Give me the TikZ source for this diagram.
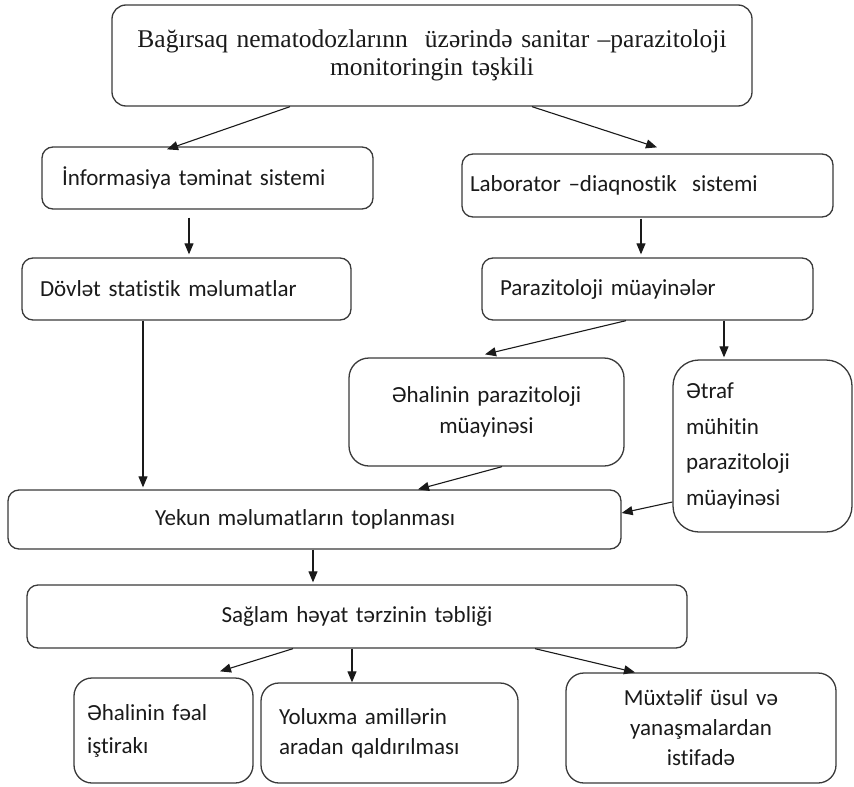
\documentclass[tikz,border=0pt]{standalone}
\usepackage{fontspec}
\usepackage{tikz}
\usetikzlibrary{arrows.meta,positioning}
\setmainfont{Carlito}[Ligatures=NoCommon]
\newfontfamily\titlefont{Liberation Serif}
\definecolor{edge}{HTML}{3A3A3A}
\definecolor{ink}{HTML}{1A1A1A}
\tikzset{
  every node/.style={font=\fontsize{23}{31}\selectfont,color=ink},
  box/.style={draw=edge,line width=1.3pt,rounded corners=11pt,fill=white,
              inner ysep=0pt,align=left},
  cbox/.style={box,align=center},
  head/.style={cbox,font=\titlefont\fontsize{25.5}{28}\selectfont,rounded corners=14pt},
  ar/.style={-{Triangle[length=11pt,width=9pt]},draw=ink,line width=1.1pt},
}

\begin{document}
\begin{tikzpicture}[x=1pt,y=-1pt]
\useasboundingbox (0,0) rectangle (854,787);

% ---- top ----
\node[head,minimum width=640pt,minimum height=101pt,text width=630pt,inner xsep=5pt] (org) at (432,55.5)
  {Bağırsaq nematodozlarınn\ \ üzərində sanitar –parazitoloji\\ monitoringin təşkili};

% ---- two systems ----
\node[box,minimum width=331pt,minimum height=62pt,text width=291pt,inner xsep=20pt] (info) at (207.5,178)
  {İnformasiya təminat sistemi};
\node[box,minimum width=371pt,minimum height=63pt,text width=355pt,inner xsep=8pt] (lab) at (647.5,185.5)
  {Laborator –diaqnostik\ \ sistemi};

\node[box,minimum width=329pt,minimum height=62pt,text width=293pt,inner xsep=18pt] (dov) at (186.5,289)
  {Dövlət statistik məlumatlar};
\node[box,minimum width=331pt,minimum height=62pt,text width=295pt,inner xsep=18pt] (par) at (647.5,289)
  {Parazitoloji müayinələr};

\draw[ar] ([xshift=-142pt]org.south) -- ([xshift=-40.5pt,yshift=-3pt]info.north);
\draw[ar] ([xshift=100pt]org.south) -- ([xshift=9.5pt,yshift=6pt]lab.north);
\draw[ar] ([xshift=-18.5pt,yshift=-8pt]info.south) -- ([xshift=2.5pt,yshift=3pt]dov.north);
\draw[ar] ([xshift=-6.5pt,yshift=-1pt]lab.south) -- ([xshift=-6.5pt,yshift=3pt]par.north);

% ---- examinations ----
\node[cbox,minimum width=275pt,minimum height=108pt,text width=255pt,inner xsep=10pt,rounded corners=20pt] (ehp) at (486.5,412)
  {Əhalinin parazitoloji\\ müayinəsi};
\node[box,minimum width=179pt,minimum height=172pt,text width=153pt,inner xsep=13pt,rounded corners=26pt,
      font=\fontsize{23}{35.5}\selectfont] (etr) at (762.5,446)
  {Ətraf\\ mühitin\\ parazitoloji\\ müayinəsi};

\draw[ar] ([xshift=-21.5pt]par.south) -- ([xshift=-1.5pt,yshift=3pt]ehp.north);
\draw[ar] ([xshift=76.5pt]par.south) -- ([xshift=-38.5pt,yshift=2pt]etr.north);

% ---- collection ----
\node[box,minimum width=613pt,minimum height=59pt,text width=319pt,inner xsep=147pt] (yek) at (314.5,519.5)
  {Yekun məlumatların toplanması};

\draw[ar] ([xshift=-43.5pt]dov.south) -- ([xshift=-171.5pt,yshift=2pt]yek.north);
\draw[ar] ([xshift=15.5pt]ehp.south) -- ([xshift=103.5pt]yek.north);
\draw[ar] ([yshift=-56pt]etr.west) -- ([yshift=6.5pt]yek.east);

% ---- promotion ----
\node[cbox,minimum width=660pt,minimum height=63pt,text width=640pt,inner xsep=10pt] (sag) at (357,616.5)
  {Sağlam həyat tərzinin təbliği};
\draw[ar] ([xshift=-1.5pt]yek.south) -- ([xshift=-44pt,yshift=2pt]sag.north);

\node[box,minimum width=179pt,minimum height=105pt,text width=153pt,inner xsep=13pt,rounded corners=18pt,
      font=\fontsize{23}{33}\selectfont] (fel) at (163.5,730.5)
  {Əhalinin fəal\\ iştirakı};
\node[box,minimum width=257pt,minimum height=100pt,text width=221pt,inner xsep=18pt,rounded corners=18pt,
      font=\fontsize{23}{30}\selectfont] (yol) at (389.5,733)
  {Yoluxma amillərin\\ aradan qaldırılması};
\node[cbox,minimum width=270pt,minimum height=110pt,text width=250pt,inner xsep=10pt,rounded corners=18pt,
      font=\fontsize{23}{30}\selectfont] (mux) at (701,728)
  {Müxtəlif üsul və\\ yanaşmalardan\\ istifadə};

\draw[ar] ([xshift=-64pt]sag.south) -- ([xshift=56.5pt,yshift=6pt]fel.north);
\draw[ar] ([xshift=-5pt]sag.south) -- ([xshift=-37.5pt]yol.north);
\draw[ar] ([xshift=178pt]sag.south) -- ([xshift=-66pt]mux.north);

\end{tikzpicture}
\end{document}
